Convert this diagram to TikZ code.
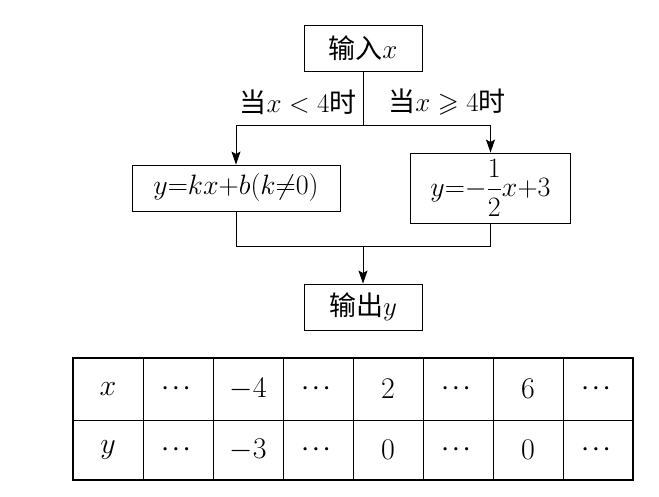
\RequirePackage{fix-cm}
\documentclass[tikz,border=0pt]{standalone}
\usepackage{amsmath,amssymb}
\usepackage{fontspec}
\newfontfamily\cjk{Noto Sans CJK SC}
\usetikzlibrary{positioning,arrows.meta,calc}
\newcommand\rowdots{{\fontsize{21}{24}\selectfont$\boldsymbol{\cdots}$}}

\begin{document}
\begin{tikzpicture}[x=1pt, y=-1pt, every node/.style={font=\fontsize{27}{32}\selectfont},
    box/.style={draw, line width=0.9pt, minimum height=46pt, inner sep=0pt},
    formula/.style={box, font=\fontsize{28}{33}\selectfont},
    cell/.style={font=\fontsize{30}{34}\selectfont},
    flow/.style={line width=0.9pt},
    arr/.style={flow, -{Stealth[length=13pt,width=9pt,inset=2.5pt]}}]
    \useasboundingbox (0,0) rectangle (659,497);
    % flow chart
    \node[box, minimum width=118pt] (in) at (363,48) {\cjk 输入$x$};
    \coordinate (split) at (363,125);
    \node (lt) at (298,102) {\cjk 当$x<4$时};
    \node (ge) at (447,102) {\cjk 当$x\geqslant4$时};
    \node[formula, minimum width=208pt] (f1) at (236,188) {$y{=}kx{+}b(k{\neq}0)$};
    \node[formula, minimum width=160pt, minimum height=70pt] (f2) at (490.5,188) {$y{=}{-}\dfrac{1}{2}x{+}3$};
    \coordinate (join) at (363,246);
    \node[box, minimum width=118pt] (out) at (363,307) {\cjk 输出$y$};
    \draw[flow] (in) -- (split);
    \draw[arr] (split) -| (f1);
    \draw[arr] (split) -| (f2);
    \draw[flow] (f1) |- (join);
    \draw[flow] (f2) |- (join);
    \draw[arr] (join) -- (out);
    % table
    \foreach \v [count=\i from 0] in {$x$,\rowdots,$-4$,\rowdots,2,\rowdots,6,\rowdots}
      \node[cell] (a\i) at (108+70*\i,389) {\v};
    \foreach \v [count=\i from 0] in {$y$,\rowdots,$-3$,\rowdots,0,\rowdots,0,\rowdots}
      \node[cell] (b\i) at (108+70*\i,450) {\v};
    \draw[line width=0.6pt] (73,420) -- (633,420);
    \foreach \i in {1,...,7}
      \draw[line width=0.6pt] (73+70*\i,358) -- (73+70*\i,480);
    \draw[line width=1.6pt] (73,358) rectangle (633,480);
  \end{tikzpicture}
\end{document}
